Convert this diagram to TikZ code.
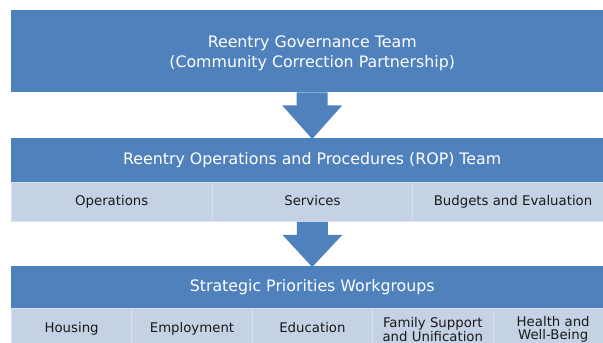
\documentclass[tikz,border=0pt]{standalone}
\usepackage{fontspec}
\setmainfont{DejaVu Sans}
\usetikzlibrary{calc}
\definecolor{hdrblue}{HTML}{4F81BD}
\definecolor{cellblue}{HTML}{C5D1E4}
\definecolor{cellline}{HTML}{D9E1EE}
\definecolor{celltext}{HTML}{1A1A1A}
\begin{document}
\begin{tikzpicture}[x=1pt,y=-1pt,
  header/.style={fill=hdrblue,draw=none,anchor=north west,inner sep=0pt,
    text=white,font=\fontsize{15.8}{19.5}\selectfont,align=center},
  cell/.style={fill=cellblue,draw=cellline,line width=0.8pt,anchor=north west,
    inner sep=0pt,text=celltext,font=\fontsize{13.3}{13.5}\selectfont,align=center},
  oneline/.style={text height=9.8pt,text depth=2.8pt},
  fatarrow/.style={fill=hdrblue,draw=none}]
\useasboundingbox (0,0) rectangle (603,343);
\begin{scope}
\clip (0,0) rectangle (603,343);

% governance team
\node[header,text height=36pt,text depth=3.8pt,minimum width=602pt,minimum height=82pt] (gov) at (11,10)
  {Reentry Governance Team\\(Community Correction Partnership)};

% operations and procedures team
\node[header,text height=11.6pt,text depth=3.3pt,minimum width=602pt,minimum height=44pt] (rop) at (11,138)
  {Reentry Operations and Procedures (ROP) Team};
\node[cell,oneline,minimum width=200.67pt,minimum height=39pt] (ops) at (11,182) {Operations};
\node[cell,oneline,minimum width=200.67pt,minimum height=39pt] (svc) at (211.67,182) {Services};
\node[cell,oneline,minimum width=200.67pt,minimum height=39pt] (bud) at (412.33,182) {Budgets and Evaluation};

% strategic priorities workgroups
\node[header,text height=11.6pt,text depth=3.3pt,minimum width=602pt,minimum height=42pt] (spw) at (11,266)
  {Strategic Priorities Workgroups};
\node[cell,oneline,minimum width=120.4pt,minimum height=42pt] (hou) at (11,308) {Housing};
\node[cell,oneline,minimum width=120.4pt,minimum height=42pt] (emp) at (131.4,308) {Employment};
\node[cell,oneline,minimum width=120.4pt,minimum height=42pt] (edu) at (251.8,308) {Education};
\node[cell,minimum width=120.4pt,minimum height=42pt] (fam) at (372.2,308) {Family Support\\and Unification};
\node[cell,minimum width=120.4pt,minimum height=42pt] (hea) at (492.6,308) {Health and\\Well-Being};
\end{scope}

% block arrows between the tiers
\fill[fatarrow] ($(gov.south)+(-15.5,0)$) -- ($(gov.south)+(15.5,0)$)
  -- ($(gov.south)+(15.5,13)$) -- ($(gov.south)+(30,13)$)
  -- ($(rop.north)+(0,1)$) -- ($(gov.south)+(-30,13)$)
  -- ($(gov.south)+(-15.5,13)$) -- cycle;
\fill[fatarrow] ($(svc.south)+(-15.5,0)$) -- ($(svc.south)+(15.5,0)$)
  -- ($(svc.south)+(15.5,13)$) -- ($(svc.south)+(30,13)$)
  -- ($(spw.north)+(0,1)$) -- ($(svc.south)+(-30,13)$)
  -- ($(svc.south)+(-15.5,13)$) -- cycle;
\end{tikzpicture}
\end{document}
